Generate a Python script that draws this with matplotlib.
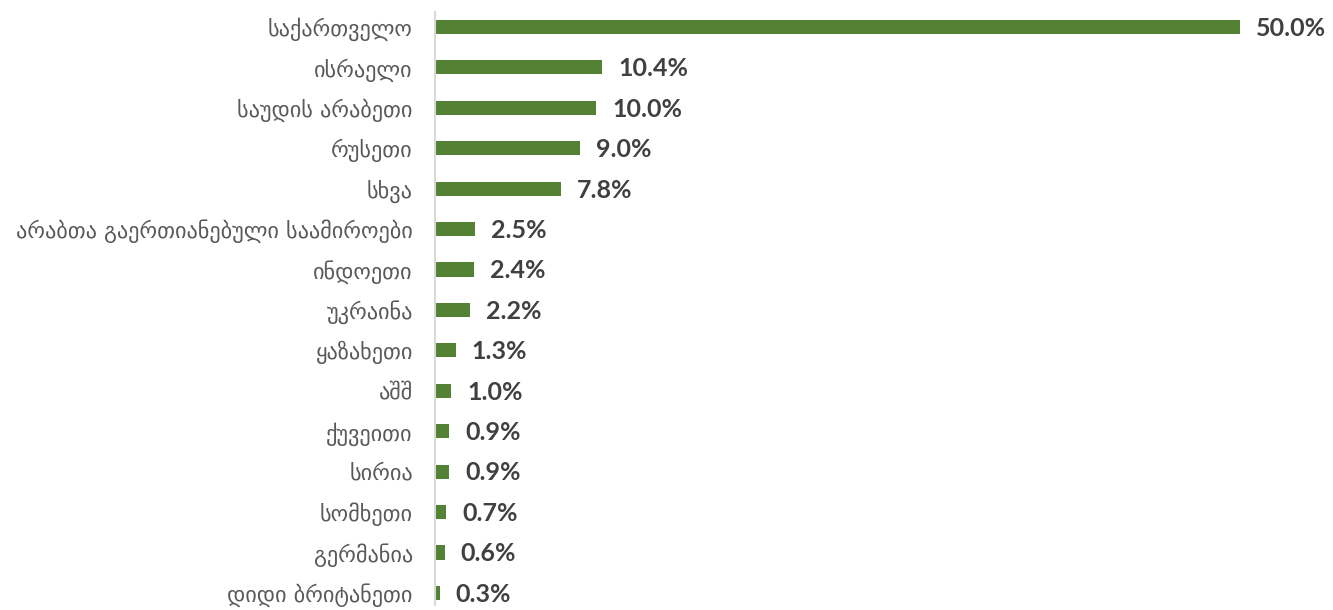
import matplotlib
matplotlib.use("Agg")
import matplotlib.pyplot as plt

categories = ["საქართველო", "ისრაელი", "საუდის არაბეთი", "რუსეთი", "სხვა",
              "არაბთა გაერთიანებული საამიროები", "ინდოეთი", "უკრაინა", "ყაზახეთი",
              "აშშ", "ქუვეითი", "სირია", "სომხეთი", "გერმანია", "დიდი ბრიტანეთი"]
values = [50.0, 10.4, 10.0, 9.0, 7.8, 2.5, 2.4, 2.2, 1.3, 1.0, 0.9, 0.9, 0.7, 0.6, 0.3]

W, H = 1333, 610
fig = plt.figure(figsize=(W / 100, H / 100), dpi=100)
left_px, right_px = 435, 1240
top_px, bot_px = 12, 605
ax = fig.add_axes([left_px / W, 1 - bot_px / H, (right_px - left_px) / W, (bot_px - top_px) / H])

y = list(range(len(categories)))
ax.barh(y, values, height=0.35, color="#548235")
ax.set_xlim(0, 50)
ax.set_ylim(len(categories) - 1 + 0.3, -0.37)

ax.set_yticks(y)
ax.set_yticklabels(categories, fontsize=16, color="#595959", family=["DejaVu Sans"])
ax.tick_params(axis="y", length=0, pad=16)
ax.set_xticks([])
for s in ["top", "right", "bottom"]:
    ax.spines[s].set_visible(False)
ax.spines["left"].set_color("#d9d9d9")
ax.spines["left"].set_linewidth(1.5)

for yi, v in zip(y, values):
    ax.annotate(f"{v:.1f}%", xy=(v, yi), xytext=(11.5, -1), textcoords="offset points",
                ha="left", va="center", fontsize=18, fontweight="bold", color="#404040",
                family=["Lato", "DejaVu Sans"], annotation_clip=False)

fig.savefig("out.png", dpi=100)
